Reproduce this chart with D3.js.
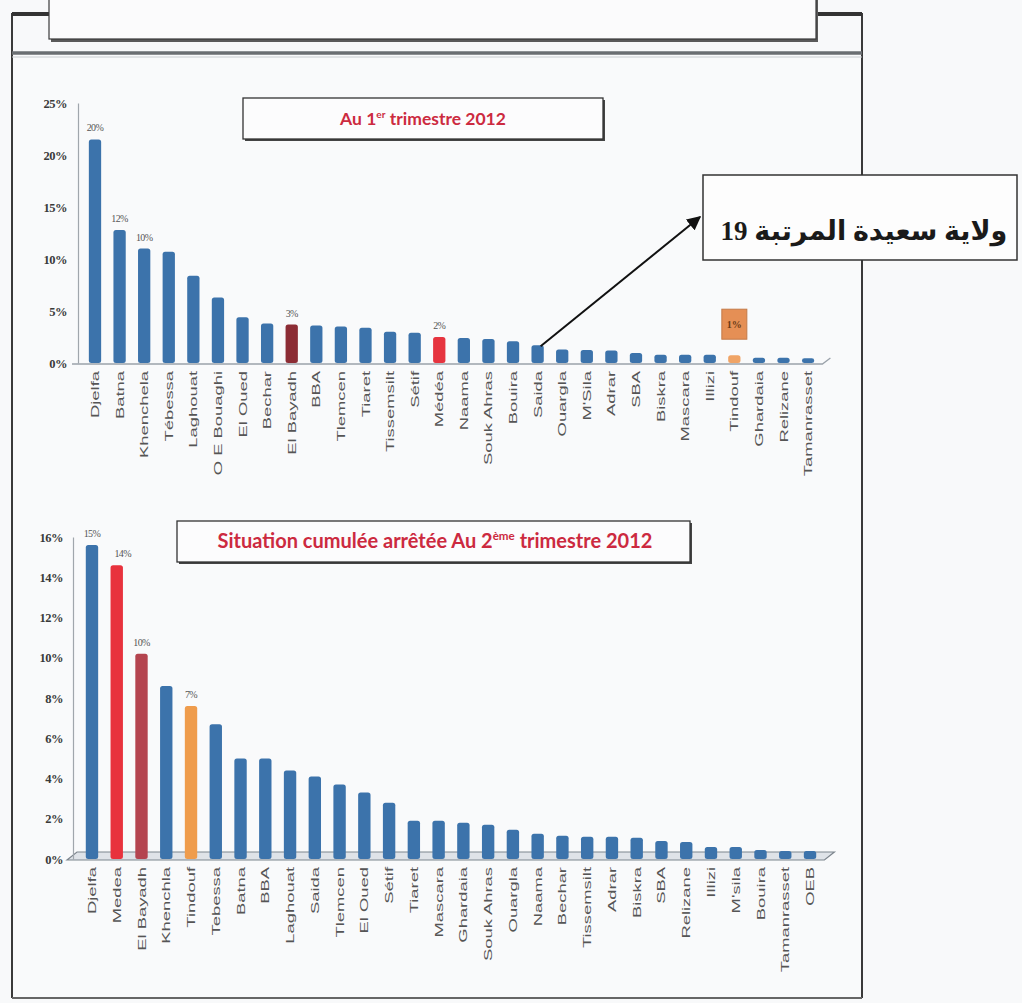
<!DOCTYPE html>
<html>
<head>
<meta charset="utf-8">
<script src="https://cdn.jsdelivr.net/npm/d3@7"></script>
<style>
  html, body { margin: 0; padding: 0; background: #f8f9fa; }
  svg { display: block; }
</style>
</head>
<body>
<script>
// ---------------- DATA ----------------
const topCategories = ["Djelfa","Batna","Khenchela","Tébessa","Laghouat","O E Bouaghi","El Oued","Bechar","El Bayadh","BBA","Tlemcen","Tiaret","Tissemsilt","Sétif","Médéa","Naama","Souk Ahras","Bouira","Saida","Ouargla","M'Sila","Adrar","SBA","Biskra","Mascara","Illizi","Tindouf","Ghardaia","Relizane","Tamanrasset"];
const topValues = [21.5,12.8,11.0,10.7,8.4,6.3,4.4,3.8,3.7,3.6,3.5,3.4,3.0,2.9,2.5,2.4,2.3,2.1,1.7,1.3,1.25,1.2,0.95,0.8,0.8,0.8,0.75,0.5,0.5,0.45];
const topValueLabels = {0:"20%",1:"12%",2:"10%",8:"3%",14:"2%"};
const topBoxedLabel = {26:"1%"};
const topTicks = [0,5,10,15,20,25];

const bottomCategories = ["Djelfa","Medea","El Bayadh","Khenchla","Tindouf","Tebessa","Batna","BBA","Laghouat","Saida","Tlemcen","El Oued","Sétif","Tiaret","Mascara","Ghardaia","Souk Ahras","Ouargla","Naama","Bechar","Tissemsilt","Adrar","Biskra","SBA","Relizane","Illizi","M'sila","Bouira","Tamanrasset","OEB"];
const bottomValues = [15.6,14.6,10.2,8.6,7.6,6.7,5.0,5.0,4.4,4.1,3.7,3.3,2.8,1.9,1.9,1.8,1.7,1.45,1.25,1.15,1.1,1.1,1.05,0.9,0.85,0.6,0.6,0.45,0.4,0.4];
const bottomValueLabels = {0:"15%",1:"14%",2:"10%",4:"7%"};
const bottomTicks = [0,2,4,6,8,10,12,14,16];

const topTitle = ["Au 1","er"," trimestre 2012"];
const bottomTitle = ["Situation cumulée arrêtée Au 2","ème"," trimestre 2012"];
const calloutText = "ولاية سعيدة المرتبة 19";
const calloutTargetIndex = 18; // Saida in top chart

// ---------------- STYLES ----------------
const BLUE = "#3c73ab";
const topColors = {"El Bayadh":"#8c2c34","Médéa":"#e6343f","Tindouf":"#f0a466"};
const bottomColors = {"Medea":"#e8323d","El Bayadh":"#b4444f","Tindouf":"#ef9c4c"};
const TITLE_RED = "#cc2a40";

const W = 1022, H = 1003;
const svg = d3.select("body").append("svg").attr("width", W).attr("height", H);
svg.append("rect").attr("width", W).attr("height", H).attr("fill", "#f8f9fa");

// ---------------- FRAME ----------------
const frame = svg.append("g");
frame.append("rect").attr("x",12).attr("y",53).attr("width",850).attr("height",945).attr("fill","#f9fafb");
frame.append("path").attr("d","M12,998 V14 H50 M815,14 H862 V998").attr("fill","none").attr("stroke","#3a3a3a").attr("stroke-width",2);
frame.append("path").attr("d","M12,14 H50 M815,14 H862").attr("stroke","#333").attr("stroke-width",4);
frame.append("line").attr("x1",12).attr("x2",862).attr("y1",998).attr("y2",998).attr("stroke","#666").attr("stroke-width",2);
frame.append("line").attr("x1",12).attr("x2",862).attr("y1",53).attr("y2",53).attr("stroke","#6a6e72").attr("stroke-width",3.5);
frame.append("line").attr("x1",12).attr("x2",862).attr("y1",57).attr("y2",57).attr("stroke","#c8ccd0").attr("stroke-width",1);
// top empty box
frame.append("rect").attr("x",51).attr("y",-6).attr("width",767).attr("height",48).attr("fill","#5a5a5a");
frame.append("rect").attr("x",49).attr("y",-8).attr("width",767).attr("height",47).attr("fill","#fbfbfc").attr("stroke","#3a3a3a").attr("stroke-width",1.2);

// ---------------- helpers ----------------
function titleBox(x, y, w, h, parts, cx, baseline, size) {
  svg.append("rect").attr("x",x+2).attr("y",y+2).attr("width",w).attr("height",h).attr("fill","#444");
  svg.append("rect").attr("x",x).attr("y",y).attr("width",w).attr("height",h).attr("fill","#fcfcfd").attr("stroke","#333").attr("stroke-width",1.3);
  const t = svg.append("text").attr("x",cx).attr("y",baseline).attr("text-anchor","middle")
    .attr("font-family","Lato, 'Open Sans', sans-serif").attr("font-weight","bold")
    .attr("font-size",size).attr("fill",TITLE_RED);
  t.append("tspan").text(parts[0]);
  t.append("tspan").attr("dy",-size*0.4).attr("font-size",size*0.58).text(parts[1]);
  t.append("tspan").attr("dy",size*0.4).text(parts[2]);
}

function drawChart(cfg) {
  const g = svg.append("g");
  const x = d3.scaleBand().domain(d3.range(cfg.cats.length)).range(cfg.xr).paddingInner(0.5).paddingOuter(0.25);
  const y = d3.scaleLinear().domain(cfg.yd).range(cfg.yr);
  const y0 = y(0);
  // floor
  if (cfg.doubleFloor) {
    g.append("path").attr("d",`M${cfg.axisX-6},${y0+1} H${cfg.xr[1]+2} L${cfg.xr[1]+12},${y0-7} H${cfg.axisX+4} Z`)
      .attr("fill","#dfe3e8").attr("stroke","#7d858d").attr("stroke-width",1.2);
  } else {
    g.append("path").attr("d",`M${cfg.axisX-6},${y0+1} H${cfg.xr[1]+2} L${cfg.xr[1]+10},${y0-5}`)
      .attr("fill","none").attr("stroke","#9aa2aa").attr("stroke-width",1.3);
  }
  // y axis
  const ya = d3.axisLeft(y).tickValues(cfg.ticks).tickSize(0).tickPadding(cfg.tickPad).tickFormat(d => d + "%");
  const yg = g.append("g").attr("transform",`translate(${cfg.axisX},0)`).call(ya);
  yg.select(".domain").attr("stroke","#a0a6ac").attr("stroke-width",1.2);
  yg.selectAll("text").attr("font-family","'Liberation Serif', serif").attr("font-weight","bold")
    .attr("font-size",12.5).attr("fill","#3a3a3a").style("letter-spacing","-0.5px");
  // bars
  g.selectAll("rect.bar").data(cfg.vals).join("rect").attr("class","bar")
    .attr("x",(d,i)=>x(i)).attr("width",x.bandwidth())
    .attr("y",d=>y(d)).attr("height",d=>y0-y(d)).attr("rx",2.5)
    .attr("fill",(d,i)=>cfg.colors[cfg.cats[i]] || BLUE);
  // x axis labels
  const xa = d3.axisBottom(x).tickSize(0).tickFormat(i => cfg.cats[i]);
  const xg = g.append("g").attr("transform",`translate(0,${y0})`).call(xa);
  xg.select(".domain").remove();
  xg.selectAll("text").attr("y",0).attr("x",0).attr("dy","0.35em")
    .attr("transform","rotate(-90) translate(-8,0) scale(1.6,1)")
    .attr("text-anchor","end")
    .attr("font-family","'Liberation Sans', Arial, sans-serif").attr("font-size",11.5).attr("fill","#555");
  // value labels
  Object.entries(cfg.valueLabels).forEach(([i,l]) => {
    i = +i;
    g.append("text").attr("x",x(i)+x.bandwidth()/2 + (cfg.labelDx[i]||0)).attr("y",y(cfg.vals[i])-8)
      .attr("text-anchor","middle").attr("font-family","'Liberation Serif', serif")
      .attr("font-size",10).attr("fill","#555").style("letter-spacing","-0.6px").text(l);
  });
  return {x, y, g};
}

// ---------------- TOP CHART ----------------
const topChart = drawChart({cats: topCategories, vals: topValues, colors: topColors,
  xr: [82.7, 820.4], yd: [0,25], yr: [363,103], ticks: topTicks, axisX: 78, tickPad: 11,
  valueLabels: topValueLabels, labelDx: {}, doubleFloor: false});
Object.entries(topBoxedLabel).forEach(([i,l]) => {
  i = +i;
  const cx = topChart.x(i) + topChart.x.bandwidth()/2;
  const yy = topChart.y(topValues[i]) - 46;
  topChart.g.append("rect").attr("x",cx-12.5).attr("y",yy).attr("width",25).attr("height",30)
    .attr("fill","#e58f55").attr("stroke","#c47a48");
  topChart.g.append("text").attr("x",cx).attr("y",yy+19).attr("text-anchor","middle")
    .attr("font-family","'Liberation Serif', serif").attr("font-weight","bold").attr("font-size",10).attr("fill","#6a3a14").text(l);
});

// ---------------- BOTTOM CHART ----------------
drawChart({cats: bottomCategories, vals: bottomValues, colors: bottomColors,
  xr: [79.6, 822.4], yd: [0,16], yr: [859,537], ticks: bottomTicks, axisX: 73, tickPad: 10,
  valueLabels: bottomValueLabels, labelDx: {1: 6}, doubleFloor: true});

// ---------------- TITLES ----------------
titleBox(243, 98, 360, 41, topTitle, 423, 125, 17.5);
titleBox(177, 521, 513, 41, bottomTitle, 435, 548, 20);

// ---------------- CALLOUT ----------------
const defs = svg.append("defs");
defs.append("marker").attr("id","arr").attr("viewBox","0 0 10 10").attr("refX",9).attr("refY",5)
  .attr("markerWidth",7).attr("markerHeight",7).attr("orient","auto")
  .append("path").attr("d","M0,0 L10,5 L0,10 Z").attr("fill","#111");
const sx = topChart.x(calloutTargetIndex) + topChart.x.bandwidth()/2 + 3;
const sy = topChart.y(topValues[calloutTargetIndex]) + 1;
svg.append("line").attr("x1",sx).attr("y1",sy).attr("x2",700).attr("y2",217)
  .attr("stroke","#111").attr("stroke-width",2).attr("marker-end","url(#arr)");
svg.append("rect").attr("x",703).attr("y",175).attr("width",314).attr("height",85)
  .attr("fill","#fdfdfd").attr("stroke","#333").attr("stroke-width",1.5);
svg.append("text").attr("x",864).attr("y",240).attr("text-anchor","middle").attr("direction","rtl")
  .attr("font-family","'Liberation Serif', 'DejaVu Sans', serif").attr("font-weight","bold")
  .attr("font-size",27).attr("fill","#1a1a1a").text(calloutText);
</script>
</body>
</html>
